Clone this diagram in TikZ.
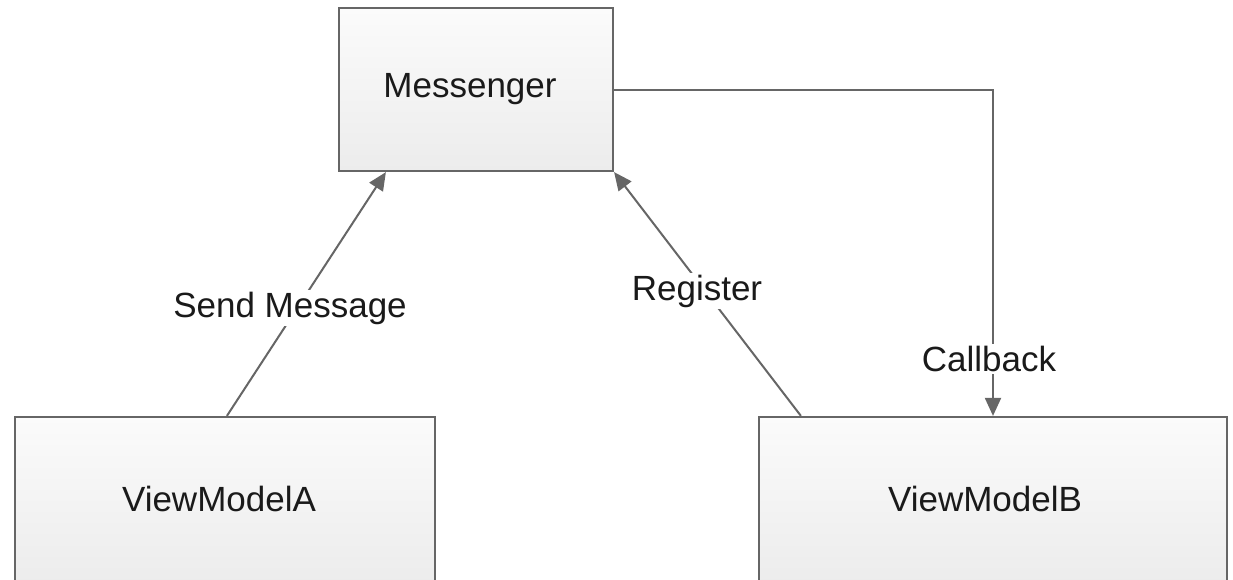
\documentclass[tikz,border=0pt]{standalone}
\usepackage{fontspec}
\setmainfont{Liberation Sans}
\usetikzlibrary{arrows.meta,calc}
\definecolor{edge}{HTML}{666666}
\definecolor{boxtop}{HTML}{FBFBFB}
\definecolor{boxbot}{HTML}{ECECEC}
\definecolor{ink}{HTML}{1A1A1A}
\tikzset{
  box/.style={draw=edge, line width=2.2pt, top color=boxtop, bottom color=boxbot,
    inner sep=0pt, text=ink, font=\fontsize{35}{42}\selectfont},
  conn/.style={draw=edge, line width=2pt, -{Triangle[length=18pt,width=16pt]}},
  lbl/.style={fill=white, text=ink, inner sep=2pt, font=\fontsize{35}{42}\selectfont}
}
\begin{document}
\begin{tikzpicture}[x=1pt,y=-1pt]
\useasboundingbox (0,0) rectangle (1233,579);
% boxes (captions sit a little left of centre)
\node[box, minimum width=274pt, minimum height=163pt] (msg) at (476,89.5) {Messenger\hspace*{12pt}};
\node[box, minimum width=420pt, minimum height=167pt] (vma) at (225,500.5)
  {\raisebox{3.5pt}{ViewModelA}\hspace*{12pt}};
\node[box, minimum width=468pt, minimum height=167pt] (vmb) at (993,500.5)
  {\raisebox{3.5pt}{ViewModelB}\hspace*{16pt}};
% connectors
\draw[conn] ([xshift=213pt]vma.north west) -- ([xshift=48pt]msg.south west);
\draw[conn] ([xshift=43pt]vmb.north west) -- (msg.south east);
\draw[conn] (msg.east) -| (vmb.north);
% labels
\node[lbl] (lsend) at (290,308) {Send Message};
\node[lbl] (lreg) at (697,291) {Register};
\node[lbl] (lcb) at (989,359) {Callback};
\end{tikzpicture}
\end{document}
